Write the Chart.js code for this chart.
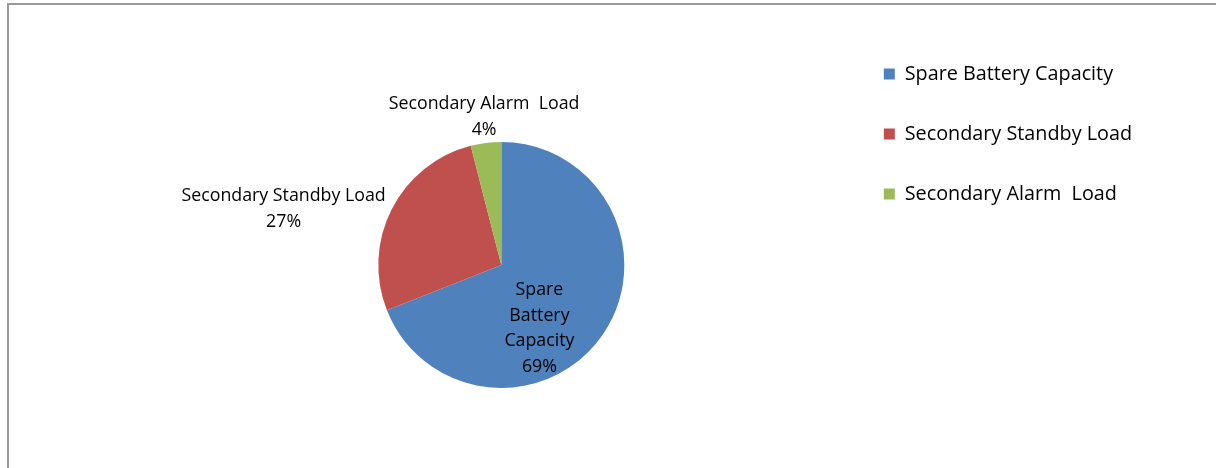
<!DOCTYPE html>
<html>
<head>
<meta charset="utf-8">
<script src="https://cdn.jsdelivr.net/npm/chart.js@4.4.0/dist/chart.umd.min.js"></script>
<style>
  html, body { margin: 0; padding: 0; background: #fff; overflow: hidden; }
  #frame {
    position: absolute; left: 7px; top: 3px;
    width: 1230px; height: 506px;
    border: 2px solid #9a9a9a;
  }
</style>
</head>
<body>
<div id="frame"><canvas id="pie-chart"></canvas></div>
<script>
const categories = ['Spare Battery Capacity', 'Secondary Standby Load', 'Secondary Alarm  Load'];
const shares = [69, 27, 4];
const sliceColors = ['#4F81BD', '#C0504D', '#9BBB59'];

// where each data label sits, relative to the pie centre in radius units
const labelLayout = [
  { dx: 0.31, dy: 0.515, wrap: true },
  { dx: -1.77, dy: -0.455, wrap: false },
  { dx: -0.14, dy: -1.205, wrap: false }
];

const FONT = "'Open Sans', sans-serif";

const dataLabels = {
  id: 'dataLabels',
  afterDatasetsDraw(chart) {
    const ctx = chart.ctx;
    const meta = chart.getDatasetMeta(0);
    const values = chart.data.datasets[0].data;
    const total = values.reduce((a, b) => a + b, 0);
    ctx.save();
    ctx.font = '17.8px ' + FONT;
    ctx.fillStyle = '#000';
    ctx.textAlign = 'center';
    ctx.textBaseline = 'middle';
    meta.data.forEach((arc, i) => {
      const lay = labelLayout[i];
      const name = chart.data.labels[i];
      const pct = Math.round(values[i] / total * 100) + '%';
      const lines = lay.wrap ? name.split(/\s+/).concat(pct) : [name, pct];
      const cx = arc.x + lay.dx * arc.outerRadius;
      const cy = arc.y + lay.dy * arc.outerRadius;
      const lh = 25.5;
      const top = cy - (lines.length - 1) * lh / 2;
      lines.forEach((t, k) => ctx.fillText(t, cx, top + k * lh));
    });
    ctx.restore();
  }
};

new Chart(document.getElementById('pie-chart'), {
  type: 'pie',
  data: {
    labels: categories,
    datasets: [{
      data: shares,
      backgroundColor: sliceColors,
      borderWidth: 0,
      radius: 123
    }]
  },
  options: {
    responsive: true,
    maintainAspectRatio: false,
    animation: false,
    layout: { padding: { left: 150, right: 97, top: 19, bottom: 5 } },
    plugins: {
      legend: {
        position: 'right',
        align: 'start',
        labels: {
          boxWidth: 11,
          boxHeight: 11,
          padding: 40.2,
          color: '#000',
          font: { family: FONT, size: 19.8 }
        }
      },
      tooltip: { enabled: false }
    }
  },
  plugins: [dataLabels]
});
</script>
</body>
</html>
